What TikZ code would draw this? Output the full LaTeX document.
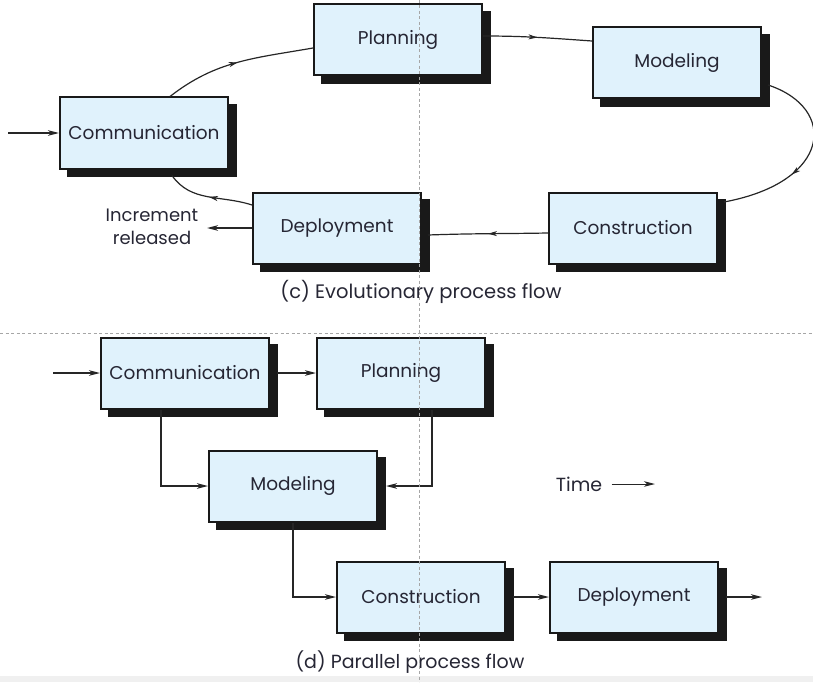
\documentclass[tikz,border=0pt]{standalone}
\usepackage{fontspec}
\setmainfont{Poppins}
\usetikzlibrary{arrows.meta,shadows,decorations.markings}
\definecolor{boxblue}{RGB}{224,242,252}
\definecolor{inkgray}{RGB}{38,38,52}
\tikzset{
  phase/.style={draw=black!90, line width=2pt, fill=boxblue,
    minimum width=168pt, minimum height=71pt, inner sep=0pt,
    text=inkgray, font=\fontsize{18.5}{22}\selectfont,
    general shadow={shadow xshift=7.5pt,shadow yshift=-7.5pt,fill=black!90,draw=black!90,line width=2pt,opacity=1}},
  flow/.style={line width=1.4pt, draw=black!85, -{Stealth[length=11pt,width=5.5pt,inset=3pt]}},
  cycleflow/.style={line width=1.2pt, draw=black!85, postaction={decorate},
    decoration={markings, mark=at position #1 with {\arrow{Stealth[length=9pt,width=5pt,inset=2.5pt]}}}},
  cycleflow/.default=0.5,
  caption/.style={text=inkgray, font=\fontsize{19.5}{21}\selectfont},
  guide/.style={gray!70, line width=0.6pt, dash pattern=on 3pt off 2.5pt}
}
\begin{document}
\begin{tikzpicture}[x=1pt,y=1pt]
\useasboundingbox (0,0) rectangle (813,-682);
\fill[gray!12] (0,-676) rectangle (813,-682);

% (c) evolutionary
\node[phase] (plan1) at (398,-40) {Planning};
\node[phase] (model1) at (677,-63) {Modeling};
\node[phase] (comm1) at (144,-133) {Communication};
\node[phase] (deploy1) at (337,-228) {Deployment};
\node[phase] (constr1) at (633,-228) {Construction};
\node[caption, font=\fontsize{18}{23}\selectfont, align=center] (incr) at (152,-227) {Increment\\released};
\node[caption] (capc) at (421,-292) {(c) Evolutionary process flow};
\coordinate (out1) at (207,-228);

\draw[cycleflow] ([xshift=26pt]comm1.north) to[out=38, in=190] ([yshift=-8pt]plan1.west);
\draw[cycleflow] ([yshift=4pt]plan1.east) to[out=0, in=176] ([yshift=22pt]model1.west);
\draw[cycleflow=0.62] ([xshift=6pt,yshift=-22pt]model1.east) .. controls (838,-108) and (832,-182) .. ([xshift=6pt,yshift=26pt]constr1.east);
\draw[cycleflow] ([yshift=-5pt]constr1.west) to[out=181, in=2] ([xshift=6pt,yshift=-7pt]deploy1.east);
\draw[cycleflow] ([yshift=23pt]deploy1.west) to[out=162, in=-55] ([xshift=28pt,yshift=-6pt]comm1.south);
\draw[flow] (8,-133) -- (comm1.west);
\draw[flow] (deploy1.west) -- (out1);

% (d) parallel
\node[phase] (comm2) at (185,-373) {Communication};
\node[phase] (plan2) at (401,-373) {Planning};
\node[phase] (model2) at (293,-486) {Modeling};
\node[phase] (constr2) at (421,-597) {Construction};
\node[phase] (deploy2) at (634,-597) {Deployment};
\node[caption, font=\fontsize{19}{21}\selectfont] (time) at (579,-484) {Time};
\node[caption, font=\fontsize{19}{21}\selectfont] (capd) at (410,-662) {(d) Parallel process flow};
\coordinate (out2) at (762,-597);
\coordinate (timeend) at (655,-484);

\draw[flow] (53,-373) -- (comm2.west);
\draw[flow] ([xshift=7pt]comm2.east) -- (plan2.west);
\draw[flow] ([xshift=-24pt]comm2.south) |- (model2.west);
\draw[flow] ([xshift=31pt]plan2.south) |- ([xshift=8pt]model2.east);
\draw[flow] (model2.south) |- (constr2.west);
\draw[flow] ([xshift=7pt]constr2.east) -- (deploy2.west);
\draw[flow] ([xshift=7pt]deploy2.east) -- (out2);
\draw[flow, line width=1pt] ([xshift=6pt]time.east) -- (timeend);

% guide lines
\draw[guide] (419,0) -- (419,-682);
\draw[guide] (0,-333) -- (813,-333);
\end{tikzpicture}
\end{document}
